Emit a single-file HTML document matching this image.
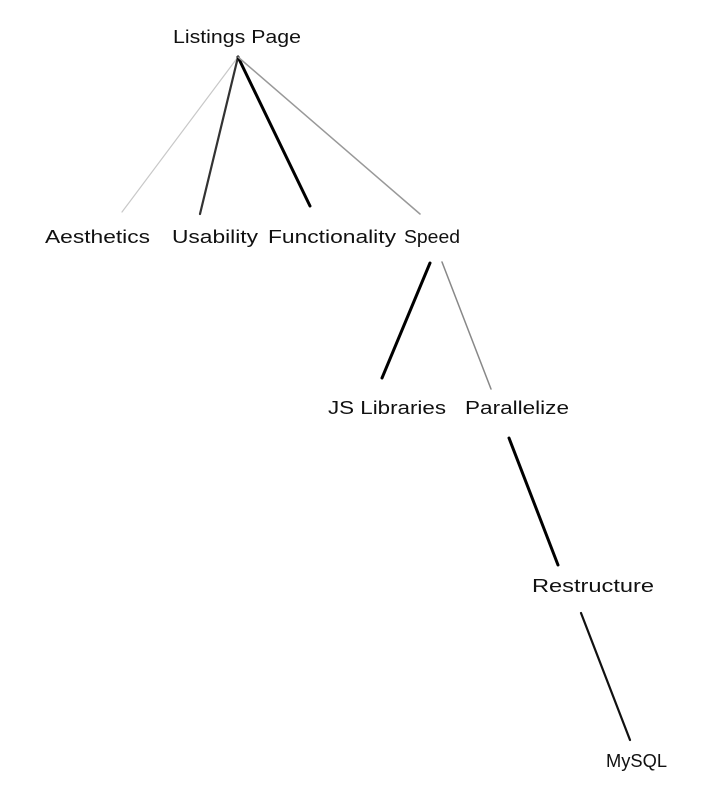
<!DOCTYPE html>
<html><head><meta charset="utf-8"><style>
html,body{margin:0;padding:0;background:#fff;}
svg{display:block;}
text{font-family:"Liberation Sans",sans-serif;font-size:18px;fill:#111;}
</style></head><body>
<svg width="702" height="796" viewBox="0 0 702 796" xmlns="http://www.w3.org/2000/svg">
<g stroke-linecap="round" fill="none">
<line x1="238" y1="57" x2="122" y2="212" stroke="#c8c8c8" stroke-width="1.2"/>
<line x1="238" y1="57" x2="200" y2="214" stroke="#333" stroke-width="2.2"/>
<line x1="238" y1="57" x2="310" y2="206" stroke="#000" stroke-width="3"/>
<line x1="238" y1="57" x2="420" y2="214" stroke="#999" stroke-width="1.5"/>
<line x1="430" y1="263" x2="382" y2="378" stroke="#000" stroke-width="3"/>
<line x1="442" y1="262" x2="491" y2="389" stroke="#888" stroke-width="1.5"/>
<line x1="509" y1="438" x2="558" y2="565" stroke="#000" stroke-width="3"/>
<line x1="581" y1="613" x2="630" y2="740" stroke="#111" stroke-width="2.2"/>
</g>
<text x="173" y="43" textLength="128" lengthAdjust="spacingAndGlyphs">Listings Page</text>
<text x="45" y="243" textLength="105" lengthAdjust="spacingAndGlyphs">Aesthetics</text>
<text x="172" y="243" textLength="86" lengthAdjust="spacingAndGlyphs">Usability</text>
<text x="268" y="243" textLength="128" lengthAdjust="spacingAndGlyphs">Functionality</text>
<text x="404" y="243" textLength="56" lengthAdjust="spacingAndGlyphs">Speed</text>
<text x="328" y="414" textLength="118" lengthAdjust="spacingAndGlyphs">JS Libraries</text>
<text x="465" y="414" textLength="104" lengthAdjust="spacingAndGlyphs">Parallelize</text>
<text x="532" y="592" textLength="122" lengthAdjust="spacingAndGlyphs">Restructure</text>
<text x="606" y="767" textLength="61" lengthAdjust="spacingAndGlyphs">MySQL</text>
</svg>
</body></html>
